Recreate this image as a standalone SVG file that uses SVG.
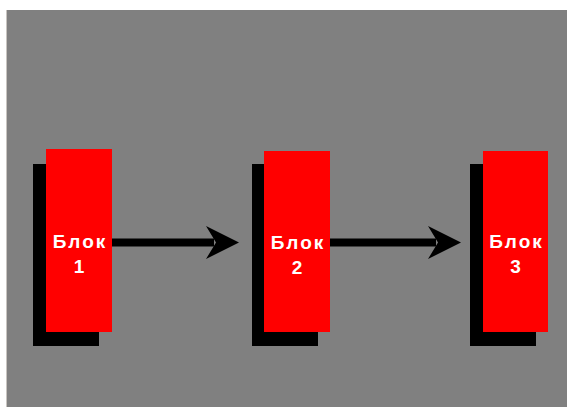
<svg xmlns="http://www.w3.org/2000/svg" width="567" height="407" viewBox="0 0 567 407">
  <style>
    .shadow { fill: #000000; }
    .block { fill: #ff0000; }
    .label { fill: #ffffff; font-family: "Liberation Sans", Arial, sans-serif; font-size: 19px; font-weight: bold; letter-spacing: 2px; text-anchor: middle; }
    .link { stroke: #000000; stroke-width: 8; fill: none; }
    .head { fill: #000000; }
  </style>
  <!-- canvas -->
  <rect x="0" y="0" width="567" height="407" fill="#ffffff"/>
  <rect x="6" y="10" width="1" height="397" fill="#c8c4c0"/>
  <rect x="7" y="10" width="560" height="397" fill="#808080"/>

  <!-- connectors -->
  <g id="connectors">
    <line class="link" x1="112" y1="242.5" x2="214" y2="242.5"/>
    <polygon class="head" points="206,226 239,242.5 206,259 216,242.5"/>
    <line class="link" x1="330" y1="242.5" x2="436" y2="242.5"/>
    <polygon class="head" points="428,226 461,242.5 428,259 438,242.5"/>
  </g>

  <g id="block1">
    <rect class="shadow" x="33" y="164" width="66" height="182"/>
    <rect class="block" x="46" y="149" width="66" height="183"/>
    <text class="label" x="80" y="248">Блок</text>
    <text class="label" x="80" y="273">1</text>
  </g>

  <g id="block2">
    <rect class="shadow" x="252" y="164" width="66" height="182"/>
    <rect class="block" x="264" y="151" width="66" height="181"/>
    <text class="label" x="298" y="249">Блок</text>
    <text class="label" x="298" y="274">2</text>
  </g>

  <g id="block3">
    <rect class="shadow" x="470" y="164" width="66" height="182"/>
    <rect class="block" x="483" y="151" width="65" height="181"/>
    <text class="label" x="516.5" y="248">Блок</text>
    <text class="label" x="516.5" y="273">3</text>
  </g>
</svg>
